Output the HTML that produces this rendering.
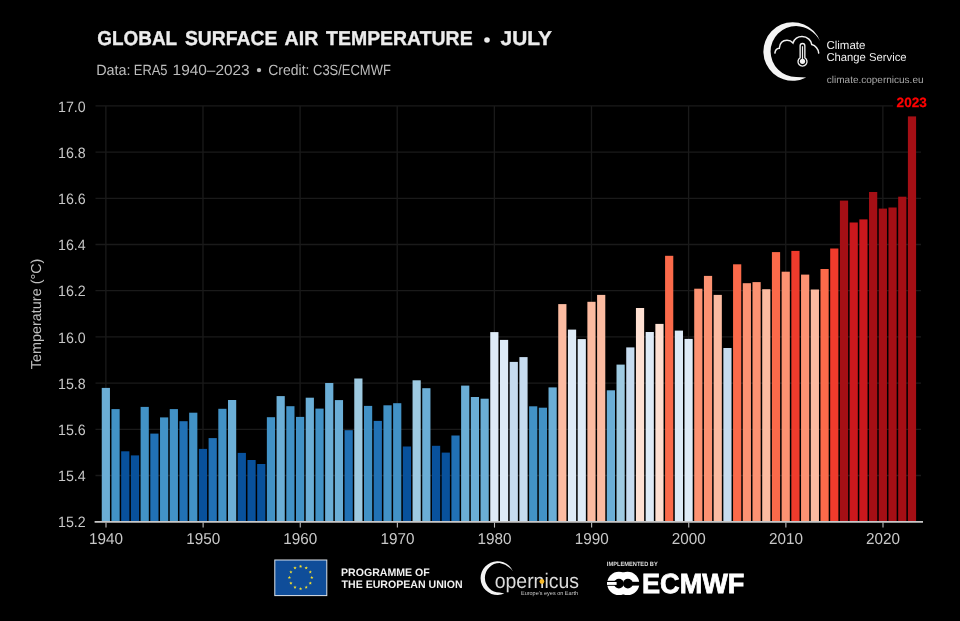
<!DOCTYPE html>
<html><head><meta charset="utf-8"><style>
html,body{margin:0;padding:0;background:#000;}
body{width:960px;height:621px;overflow:hidden;position:relative;font-family:"Liberation Sans",sans-serif;}
svg{position:absolute;left:0;top:0;will-change:transform;}
text{font-family:"Liberation Sans",sans-serif;text-rendering:geometricPrecision;}
</style></head><body>
<svg width="960" height="621" viewBox="0 0 960 621">
<rect width="960" height="621" fill="#000"/>
<g stroke="#1a1a1a" stroke-width="1.3">
<line x1="95.5" y1="475.50" x2="921" y2="475.50"/><line x1="95.5" y1="429.30" x2="921" y2="429.30"/><line x1="95.5" y1="383.10" x2="921" y2="383.10"/><line x1="95.5" y1="336.90" x2="921" y2="336.90"/><line x1="95.5" y1="290.70" x2="921" y2="290.70"/><line x1="95.5" y1="244.50" x2="921" y2="244.50"/><line x1="95.5" y1="198.30" x2="921" y2="198.30"/><line x1="95.5" y1="152.10" x2="921" y2="152.10"/><line x1="95.5" y1="105.90" x2="893" y2="105.90"/><line x1="105.85" y1="105.90" x2="105.85" y2="521.0"/><line x1="202.97" y1="105.90" x2="202.97" y2="521.0"/><line x1="300.10" y1="105.90" x2="300.10" y2="521.0"/><line x1="397.23" y1="105.90" x2="397.23" y2="521.0"/><line x1="494.35" y1="105.90" x2="494.35" y2="521.0"/><line x1="591.48" y1="105.90" x2="591.48" y2="521.0"/><line x1="688.60" y1="105.90" x2="688.60" y2="521.0"/><line x1="785.73" y1="105.90" x2="785.73" y2="521.0"/><line x1="882.85" y1="105.90" x2="882.85" y2="521.0"/>
</g>
<g>
<rect x="101.75" y="387.9" width="8.2" height="133.1" fill="#6baed6"/><rect x="111.46" y="409.1" width="8.2" height="111.9" fill="#4292c6"/><rect x="121.17" y="451.3" width="8.2" height="69.7" fill="#08519c"/><rect x="130.89" y="455.4" width="8.2" height="65.6" fill="#08519c"/><rect x="140.60" y="406.9" width="8.2" height="114.1" fill="#4292c6"/><rect x="150.31" y="433.6" width="8.2" height="87.4" fill="#2171b5"/><rect x="160.03" y="417.4" width="8.2" height="103.6" fill="#4292c6"/><rect x="169.74" y="409.1" width="8.2" height="111.9" fill="#4292c6"/><rect x="179.45" y="421.2" width="8.2" height="99.8" fill="#2171b5"/><rect x="189.16" y="412.7" width="8.2" height="108.3" fill="#4292c6"/><rect x="198.88" y="448.9" width="8.2" height="72.1" fill="#08519c"/><rect x="208.59" y="438.1" width="8.2" height="82.9" fill="#2171b5"/><rect x="218.30" y="408.8" width="8.2" height="112.2" fill="#4292c6"/><rect x="228.01" y="400.0" width="8.2" height="121.0" fill="#6baed6"/><rect x="237.72" y="452.9" width="8.2" height="68.1" fill="#08519c"/><rect x="247.44" y="460.0" width="8.2" height="61.0" fill="#08519c"/><rect x="257.15" y="464.0" width="8.2" height="57.0" fill="#08519c"/><rect x="266.86" y="417.2" width="8.2" height="103.8" fill="#4292c6"/><rect x="276.57" y="396.1" width="8.2" height="124.9" fill="#6baed6"/><rect x="286.29" y="406.2" width="8.2" height="114.8" fill="#4292c6"/><rect x="296.00" y="416.9" width="8.2" height="104.1" fill="#4292c6"/><rect x="305.71" y="397.7" width="8.2" height="123.3" fill="#6baed6"/><rect x="315.42" y="408.6" width="8.2" height="112.4" fill="#4292c6"/><rect x="325.14" y="383.0" width="8.2" height="138.0" fill="#6baed6"/><rect x="334.85" y="400.1" width="8.2" height="120.9" fill="#6baed6"/><rect x="344.56" y="430.2" width="8.2" height="90.8" fill="#2171b5"/><rect x="354.27" y="378.5" width="8.2" height="142.5" fill="#9ecae1"/><rect x="363.99" y="405.9" width="8.2" height="115.1" fill="#4292c6"/><rect x="373.70" y="420.9" width="8.2" height="100.1" fill="#2171b5"/><rect x="383.41" y="405.3" width="8.2" height="115.7" fill="#4292c6"/><rect x="393.12" y="403.2" width="8.2" height="117.8" fill="#4292c6"/><rect x="402.84" y="446.5" width="8.2" height="74.5" fill="#08519c"/><rect x="412.55" y="380.3" width="8.2" height="140.7" fill="#9ecae1"/><rect x="422.26" y="388.2" width="8.2" height="132.8" fill="#6baed6"/><rect x="431.98" y="445.8" width="8.2" height="75.2" fill="#08519c"/><rect x="441.69" y="452.6" width="8.2" height="68.4" fill="#08519c"/><rect x="451.40" y="435.5" width="8.2" height="85.5" fill="#2171b5"/><rect x="461.11" y="385.6" width="8.2" height="135.4" fill="#6baed6"/><rect x="470.82" y="397.0" width="8.2" height="124.0" fill="#6baed6"/><rect x="480.54" y="398.7" width="8.2" height="122.3" fill="#6baed6"/><rect x="490.25" y="332.1" width="8.2" height="188.9" fill="#deebf7"/><rect x="499.96" y="339.9" width="8.2" height="181.1" fill="#deebf7"/><rect x="509.67" y="361.9" width="8.2" height="159.1" fill="#c6dbef"/><rect x="519.39" y="357.1" width="8.2" height="163.9" fill="#c6dbef"/><rect x="529.10" y="406.3" width="8.2" height="114.7" fill="#4292c6"/><rect x="538.81" y="407.7" width="8.2" height="113.3" fill="#4292c6"/><rect x="548.52" y="387.4" width="8.2" height="133.6" fill="#6baed6"/><rect x="558.24" y="304.1" width="8.2" height="216.9" fill="#fcbba1"/><rect x="567.95" y="329.6" width="8.2" height="191.4" fill="#deebf7"/><rect x="577.66" y="339.1" width="8.2" height="181.9" fill="#deebf7"/><rect x="587.38" y="301.8" width="8.2" height="219.2" fill="#fcbba1"/><rect x="597.09" y="294.9" width="8.2" height="226.1" fill="#fcbba1"/><rect x="606.80" y="390.3" width="8.2" height="130.7" fill="#6baed6"/><rect x="616.51" y="364.6" width="8.2" height="156.4" fill="#9ecae1"/><rect x="626.23" y="347.4" width="8.2" height="173.6" fill="#c6dbef"/><rect x="635.94" y="308.0" width="8.2" height="213.0" fill="#fee0d2"/><rect x="645.65" y="332.0" width="8.2" height="189.0" fill="#deebf7"/><rect x="655.36" y="323.9" width="8.2" height="197.1" fill="#fee0d2"/><rect x="665.08" y="255.8" width="8.2" height="265.2" fill="#fb6a4a"/><rect x="674.79" y="330.6" width="8.2" height="190.4" fill="#deebf7"/><rect x="684.50" y="338.9" width="8.2" height="182.1" fill="#deebf7"/><rect x="694.21" y="288.7" width="8.2" height="232.3" fill="#fc9272"/><rect x="703.93" y="275.9" width="8.2" height="245.1" fill="#fc9272"/><rect x="713.64" y="294.9" width="8.2" height="226.1" fill="#fcbba1"/><rect x="723.35" y="348.0" width="8.2" height="173.0" fill="#c6dbef"/><rect x="733.06" y="264.3" width="8.2" height="256.7" fill="#fb6a4a"/><rect x="742.77" y="283.2" width="8.2" height="237.8" fill="#fc9272"/><rect x="752.49" y="282.1" width="8.2" height="238.9" fill="#fc9272"/><rect x="762.20" y="289.2" width="8.2" height="231.8" fill="#fcbba1"/><rect x="771.91" y="252.1" width="8.2" height="268.9" fill="#fb6a4a"/><rect x="781.62" y="271.7" width="8.2" height="249.3" fill="#fc9272"/><rect x="791.34" y="250.9" width="8.2" height="270.1" fill="#ef3b2c"/><rect x="801.05" y="274.6" width="8.2" height="246.4" fill="#fc9272"/><rect x="810.76" y="289.5" width="8.2" height="231.5" fill="#fcbba1"/><rect x="820.48" y="269.0" width="8.2" height="252.0" fill="#fb6a4a"/><rect x="830.19" y="248.5" width="8.2" height="272.5" fill="#ef3b2c"/><rect x="839.90" y="200.6" width="8.2" height="320.4" fill="#a50f15"/><rect x="849.61" y="222.5" width="8.2" height="298.5" fill="#cb181d"/><rect x="859.33" y="219.4" width="8.2" height="301.6" fill="#cb181d"/><rect x="869.04" y="192.0" width="8.2" height="329.0" fill="#a50f15"/><rect x="878.75" y="208.6" width="8.2" height="312.4" fill="#a50f15"/><rect x="888.46" y="207.5" width="8.2" height="313.5" fill="#a50f15"/><rect x="898.18" y="196.7" width="8.2" height="324.3" fill="#a50f15"/><rect x="907.89" y="116.4" width="8.2" height="404.6" fill="#a50f15"/>
</g>
<line x1="94.6" y1="521.85" x2="923" y2="521.85" stroke="#c8c8c8" stroke-width="1.7"/>
<g stroke="#bcbcbc" stroke-width="1.1"><line x1="106.00" y1="522.6" x2="106.00" y2="527.6"/><line x1="203.12" y1="522.6" x2="203.12" y2="527.6"/><line x1="300.25" y1="522.6" x2="300.25" y2="527.6"/><line x1="397.38" y1="522.6" x2="397.38" y2="527.6"/><line x1="494.50" y1="522.6" x2="494.50" y2="527.6"/><line x1="591.62" y1="522.6" x2="591.62" y2="527.6"/><line x1="688.75" y1="522.6" x2="688.75" y2="527.6"/><line x1="785.88" y1="522.6" x2="785.88" y2="527.6"/><line x1="883.00" y1="522.6" x2="883.00" y2="527.6"/></g>
<g fill="#c8c8c8" font-size="15.0"><text x="85.6" y="527.45" text-anchor="end" textLength="27.6" lengthAdjust="spacingAndGlyphs">15.2</text><text x="85.6" y="481.25" text-anchor="end" textLength="27.6" lengthAdjust="spacingAndGlyphs">15.4</text><text x="85.6" y="435.05" text-anchor="end" textLength="27.6" lengthAdjust="spacingAndGlyphs">15.6</text><text x="85.6" y="388.85" text-anchor="end" textLength="27.6" lengthAdjust="spacingAndGlyphs">15.8</text><text x="85.6" y="342.65" text-anchor="end" textLength="27.6" lengthAdjust="spacingAndGlyphs">16.0</text><text x="85.6" y="296.45" text-anchor="end" textLength="27.6" lengthAdjust="spacingAndGlyphs">16.2</text><text x="85.6" y="250.25" text-anchor="end" textLength="27.6" lengthAdjust="spacingAndGlyphs">16.4</text><text x="85.6" y="204.05" text-anchor="end" textLength="27.6" lengthAdjust="spacingAndGlyphs">16.6</text><text x="85.6" y="157.85" text-anchor="end" textLength="27.6" lengthAdjust="spacingAndGlyphs">16.8</text><text x="85.6" y="111.65" text-anchor="end" textLength="27.6" lengthAdjust="spacingAndGlyphs">17.0</text></g>
<g fill="#c8c8c8" font-size="15.8"><text x="106.05" y="544.3" text-anchor="middle" textLength="34.0" lengthAdjust="spacingAndGlyphs">1940</text><text x="203.17" y="544.3" text-anchor="middle" textLength="34.0" lengthAdjust="spacingAndGlyphs">1950</text><text x="300.30" y="544.3" text-anchor="middle" textLength="34.0" lengthAdjust="spacingAndGlyphs">1960</text><text x="397.43" y="544.3" text-anchor="middle" textLength="34.0" lengthAdjust="spacingAndGlyphs">1970</text><text x="494.55" y="544.3" text-anchor="middle" textLength="34.0" lengthAdjust="spacingAndGlyphs">1980</text><text x="591.68" y="544.3" text-anchor="middle" textLength="34.0" lengthAdjust="spacingAndGlyphs">1990</text><text x="688.80" y="544.3" text-anchor="middle" textLength="34.0" lengthAdjust="spacingAndGlyphs">2000</text><text x="785.93" y="544.3" text-anchor="middle" textLength="34.0" lengthAdjust="spacingAndGlyphs">2010</text><text x="883.05" y="544.3" text-anchor="middle" textLength="34.0" lengthAdjust="spacingAndGlyphs">2020</text></g>
<text transform="translate(41.2,313.9) rotate(-90)" text-anchor="middle" fill="#c0c0c0" font-size="14.4">Temperature (°C)</text>
<text x="896.6" y="106.9" fill="#ff0000" stroke="#ff0000" stroke-width="0.25" font-size="13.5" font-weight="700" textLength="30.2" lengthAdjust="spacingAndGlyphs">2023</text>
<text x="97.34" y="45.3" font-size="20" font-weight="700" fill="#ececec" textLength="79.75" lengthAdjust="spacingAndGlyphs" stroke="#ececec" stroke-width="0.35">GLOBAL</text><text x="184.92" y="45.3" font-size="20" font-weight="700" fill="#ececec" textLength="92.42" lengthAdjust="spacingAndGlyphs" stroke="#ececec" stroke-width="0.35">SURFACE</text><text x="284.61" y="45.3" font-size="20" font-weight="700" fill="#ececec" textLength="33.62" lengthAdjust="spacingAndGlyphs" stroke="#ececec" stroke-width="0.35">AIR</text><text x="326.11" y="45.3" font-size="20" font-weight="700" fill="#ececec" textLength="146.52" lengthAdjust="spacingAndGlyphs" stroke="#ececec" stroke-width="0.35">TEMPERATURE</text><text x="500.58" y="45.3" font-size="20" font-weight="700" fill="#ececec" textLength="51.42" lengthAdjust="spacingAndGlyphs" stroke="#ececec" stroke-width="0.35">JULY</text><circle cx="487" cy="40" r="2.8" fill="#ececec"/>
<text x="96.15" y="74.6" font-size="14.8" font-weight="400" fill="#bdbdbd" textLength="34.45" lengthAdjust="spacingAndGlyphs">Data:</text><text x="133.77" y="74.6" font-size="14.8" font-weight="400" fill="#bdbdbd" textLength="33.78" lengthAdjust="spacingAndGlyphs">ERA5</text><text x="172.62" y="74.6" font-size="14.8" font-weight="400" fill="#bdbdbd" textLength="77.08" lengthAdjust="spacingAndGlyphs">1940–2023</text><text x="268.3" y="74.6" font-size="14.8" font-weight="400" fill="#bdbdbd" textLength="41.09" lengthAdjust="spacingAndGlyphs">Credit:</text><text x="313.05" y="74.6" font-size="14.8" font-weight="400" fill="#bdbdbd" textLength="77.77" lengthAdjust="spacingAndGlyphs">C3S/ECMWF</text><circle cx="259" cy="70.1" r="2.2" fill="#bdbdbd"/>
<!-- C3S logo -->
<path d="M820,40.9 A29.3,29.3 0 1 0 806.2,77.5 Q802,77.3 796.1,77 A25.5,25.5 0 0 1 796.1,26 Q812,27 820,40.9 Z" fill="#f4f4f4"/>
<path d="M774.9,53.1 C775.2,50 777,48.3 779.3,48.2 C779.8,43 783,40.3 787,40.3 C789.8,40.3 791.8,41.6 793,43 C794.5,39 798,36.6 802,36.6 C807.5,36.6 811.5,40.5 811.8,44.6 C815.5,45.5 818.5,49 818.7,53.1" fill="none" stroke="#f0f0f0" stroke-width="1.5" stroke-linecap="round"/>
<path d="M800.15,57.76 L800.15,45.8 A2.35,2.35 0 0 1 804.85,45.8 L804.85,57.76 A4.5,4.5 0 1 1 800.15,57.76 Z" fill="#000" stroke="#f0f0f0" stroke-width="1.35"/>
<line x1="802.5" y1="46.2" x2="802.5" y2="59.4" stroke="#eeeeee" stroke-width="1.2"/>
<circle cx="802.5" cy="61.3" r="2.6" fill="#f4f4f4"/>
<text x="826.4" y="48.7" fill="#ededed" font-size="11.5">Climate</text>
<text x="826.4" y="60.7" fill="#ededed" font-size="11.5" textLength="80.2" lengthAdjust="spacingAndGlyphs">Change Service</text>
<text x="826.8" y="82.6" fill="#a8a8a8" font-size="10">climate.copernicus.eu</text>
<!-- EU flag -->
<rect x="274.8" y="560" width="52" height="35.6" fill="#0f4d99" stroke="#dde4ec" stroke-width="1"/>
<g fill="#f2e030"><polygon points="300.60,564.65 301.04,565.79 302.26,565.86 301.31,566.63 301.63,567.82 300.60,567.15 299.57,567.82 299.89,566.63 298.94,565.86 300.16,565.79"/><polygon points="306.20,566.15 306.64,567.29 307.86,567.36 306.91,568.13 307.23,569.32 306.20,568.65 305.17,569.32 305.49,568.13 304.54,567.36 305.76,567.29"/><polygon points="310.30,570.25 310.74,571.39 311.96,571.46 311.01,572.23 311.33,573.42 310.30,572.75 309.27,573.42 309.59,572.23 308.64,571.46 309.86,571.39"/><polygon points="311.80,575.85 312.24,576.99 313.46,577.06 312.51,577.83 312.83,579.02 311.80,578.35 310.77,579.02 311.09,577.83 310.14,577.06 311.36,576.99"/><polygon points="310.30,581.45 310.74,582.59 311.96,582.66 311.01,583.43 311.33,584.62 310.30,583.95 309.27,584.62 309.59,583.43 308.64,582.66 309.86,582.59"/><polygon points="306.20,585.55 306.64,586.69 307.86,586.76 306.91,587.53 307.23,588.72 306.20,588.05 305.17,588.72 305.49,587.53 304.54,586.76 305.76,586.69"/><polygon points="300.60,587.05 301.04,588.19 302.26,588.26 301.31,589.03 301.63,590.22 300.60,589.55 299.57,590.22 299.89,589.03 298.94,588.26 300.16,588.19"/><polygon points="295.00,585.55 295.44,586.69 296.66,586.76 295.71,587.53 296.03,588.72 295.00,588.05 293.97,588.72 294.29,587.53 293.34,586.76 294.56,586.69"/><polygon points="290.90,581.45 291.34,582.59 292.56,582.66 291.61,583.43 291.93,584.62 290.90,583.95 289.87,584.62 290.19,583.43 289.24,582.66 290.46,582.59"/><polygon points="289.40,575.85 289.84,576.99 291.06,577.06 290.11,577.83 290.43,579.02 289.40,578.35 288.37,579.02 288.69,577.83 287.74,577.06 288.96,576.99"/><polygon points="290.90,570.25 291.34,571.39 292.56,571.46 291.61,572.23 291.93,573.42 290.90,572.75 289.87,573.42 290.19,572.23 289.24,571.46 290.46,571.39"/><polygon points="295.00,566.15 295.44,567.29 296.66,567.36 295.71,568.13 296.03,569.32 295.00,568.65 293.97,569.32 294.29,568.13 293.34,567.36 294.56,567.29"/></g>
<text x="340.96" y="575.99" font-size="10.8" font-weight="700" fill="#f0f0f0" textLength="88.85" lengthAdjust="spacingAndGlyphs">PROGRAMME OF</text>
<text x="341.59" y="587.99" font-size="10.8" font-weight="700" fill="#f0f0f0" textLength="121.0" lengthAdjust="spacingAndGlyphs">THE EUROPEAN UNION</text>
<!-- Copernicus -->
<path d="M512.9,571.2 A16.9,16.9 0 1 0 504.3,593.6 Q502,593.2 499.6,592.5 A14.7,14.7 0 0 1 499.6,563.1 Q508,564.6 512.9,571.2 Z" fill="#f4f4f4"/>
<text x="494.72" y="588.4" font-size="21" font-weight="400" fill="#dcdcdc" textLength="84.28" lengthAdjust="spacingAndGlyphs">opernicus</text>
<circle cx="541.9" cy="581.5" r="2.4" fill="#f5b82a"/>
<text x="521" y="595.3" fill="#cccccc" font-size="5.6" textLength="57" lengthAdjust="spacingAndGlyphs">Europe's eyes on Earth</text>
<!-- ECMWF -->
<text x="606.8" y="566.3" fill="#dddddd" font-size="6.1" font-weight="700" textLength="51" lengthAdjust="spacingAndGlyphs">IMPLEMENTED BY</text>
<circle cx="618.9" cy="583.4" r="11.7" fill="#fff"/>
<circle cx="627.6" cy="583.4" r="11.7" fill="#fff"/>
<rect x="627.6" y="581.8" width="13" height="3.8" fill="#000"/>
<rect x="606" y="580.8" width="13" height="5" fill="#000"/>
<circle cx="618.9" cy="583.6" r="4.9" fill="#000"/>
<circle cx="627.9" cy="583.6" r="4.9" fill="#000"/>
<rect x="607" y="582" width="9.6" height="2.9" fill="#fff"/>
<text x="642.0" y="593.2" font-size="27.7" font-weight="700" fill="#ffffff" textLength="102.4" lengthAdjust="spacingAndGlyphs" stroke="#ffffff" stroke-width="0.8" stroke-linejoin="miter">ECMWF</text>
</svg>
</body></html>
